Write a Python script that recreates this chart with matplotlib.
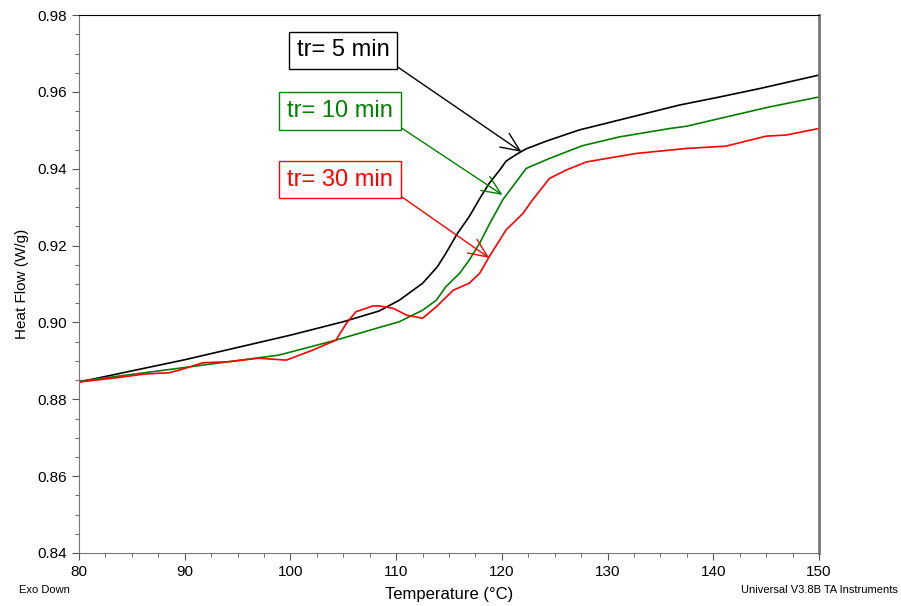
import numpy as np
import matplotlib
matplotlib.use('Agg')
import matplotlib.pyplot as plt
from matplotlib.ticker import MultipleLocator

plt.rcParams['font.family'] = ['Liberation Sans', 'DejaVu Sans']

# curves (temperature in C, heat flow in W/g)
t5 = [80, 90, 100, 105.0, 108.4, 110.3, 112.5, 113.9, 114.7, 115.8, 116.9, 118.0,
      118.8, 119.8, 120.4, 121.4, 122.3, 124.2, 127.3, 131.1, 136.8, 140.6, 144.4, 150]
hf5 = [0.8845, 0.8903, 0.8967, 0.9002, 0.9030, 0.9058, 0.9102, 0.9145, 0.9180, 0.9232,
       0.9275, 0.9327, 0.9362, 0.9397, 0.9420, 0.9438, 0.9452, 0.9472, 0.9501, 0.9527,
       0.9566, 0.9587, 0.9609, 0.9644]

t10 = [80, 89.5, 98.9, 104.3, 108.4, 110.3, 112.5, 113.8, 114.7, 116.0, 116.9,
       117.9, 118.8, 120.1, 121.0, 122.3, 124.5, 127.6, 131.1, 135.9, 137.5,
       140.6, 145.3, 150]
hf10 = [0.8847, 0.8881, 0.8915, 0.8954, 0.8987, 0.9002, 0.9032, 0.9058, 0.9093,
        0.9128, 0.9162, 0.9206, 0.9255, 0.9320, 0.9353, 0.9401, 0.9427, 0.9460,
        0.9483, 0.9505, 0.9511, 0.9531, 0.9561, 0.9587]

t30 = [80, 83.2, 86.3, 88.5, 89.5, 91.7, 94.2, 97.0, 99.6, 102.1, 104.3, 105.3,
       106.2, 107.8, 108.4, 109.7, 111.0, 112.5, 113.8, 115.4, 116.9, 117.9,
       118.8, 120.4, 122.0, 122.9, 124.5, 126.1, 128.0, 132.7, 137.5, 141.2,
       142.5, 145.0, 146.9, 150]
hf30 = [0.8845, 0.8855, 0.8866, 0.8869, 0.8876, 0.8895, 0.8898, 0.8907, 0.8902,
        0.8928, 0.8954, 0.8998, 0.9028, 0.9043, 0.9043, 0.9037, 0.9019, 0.9011,
        0.9041, 0.9084, 0.9102, 0.9128, 0.9171, 0.9241, 0.9284, 0.9319, 0.9375,
        0.9397, 0.9418, 0.9440, 0.9453, 0.9459, 0.9468, 0.9485, 0.9488, 0.9505]

labels = ['tr= 5 min', 'tr= 10 min', 'tr= 30 min']
colors = ['black', 'green', 'red']
text_pos = [(105.0, 0.9708), (104.67, 0.9550), (104.67, 0.9372)]
arrow_to = [(121.86, 0.9444), (120.06, 0.9332), (118.8, 0.9168)]

fig = plt.figure(figsize=(9.01, 6.06), dpi=100)
ax = fig.add_axes([0.0877, 0.0875, 0.8213, 0.8875])

for t, hf, c in zip([t5, t10, t30], [hf5, hf10, hf30], colors):
    ax.plot(t, hf, color=c, lw=1.2, solid_joinstyle='round')

for lab, c, tp, at in zip(labels, colors, text_pos, arrow_to):
    ax.annotate(lab, xy=at, xytext=tp, color=c, fontsize=17,
                ha='center', va='center',
                bbox=dict(boxstyle='square,pad=0.33', fc='white', ec=c, lw=1),
                arrowprops=dict(arrowstyle='->,head_length=0.8,head_width=0.35',
                                color=c, lw=1, relpos=(1, 0),
                                shrinkA=0, shrinkB=0))

ax.set_xlim(80, 150)
ax.set_ylim(0.84, 0.98)
ax.xaxis.set_major_locator(MultipleLocator(10))
ax.xaxis.set_minor_locator(MultipleLocator(2.5))
ax.yaxis.set_major_locator(MultipleLocator(0.02))
ax.yaxis.set_minor_locator(MultipleLocator(0.005))
ax.yaxis.set_major_formatter(plt.FormatStrFormatter('%.2f'))
ax.tick_params(which='major', length=5, labelsize=11, color='#555555')
ax.tick_params(which='minor', length=3, color='#555555')
for side in ['left', 'right', 'bottom']:
    ax.spines[side].set_color('#777777')
ax.spines['right'].set_linewidth(2)
ax.spines['top'].set_color('black')

ax.set_xlabel('Temperature (°C)', fontsize=12, labelpad=6)
ax.set_ylabel('Heat Flow (W/g)', fontsize=11, labelpad=6)

fig.text(0.021, 0.022, 'Exo Down', fontsize=8)
fig.text(0.997, 0.022, 'Universal V3.8B TA Instruments', fontsize=8, ha='right')

plt.savefig('out.png', dpi=100)
